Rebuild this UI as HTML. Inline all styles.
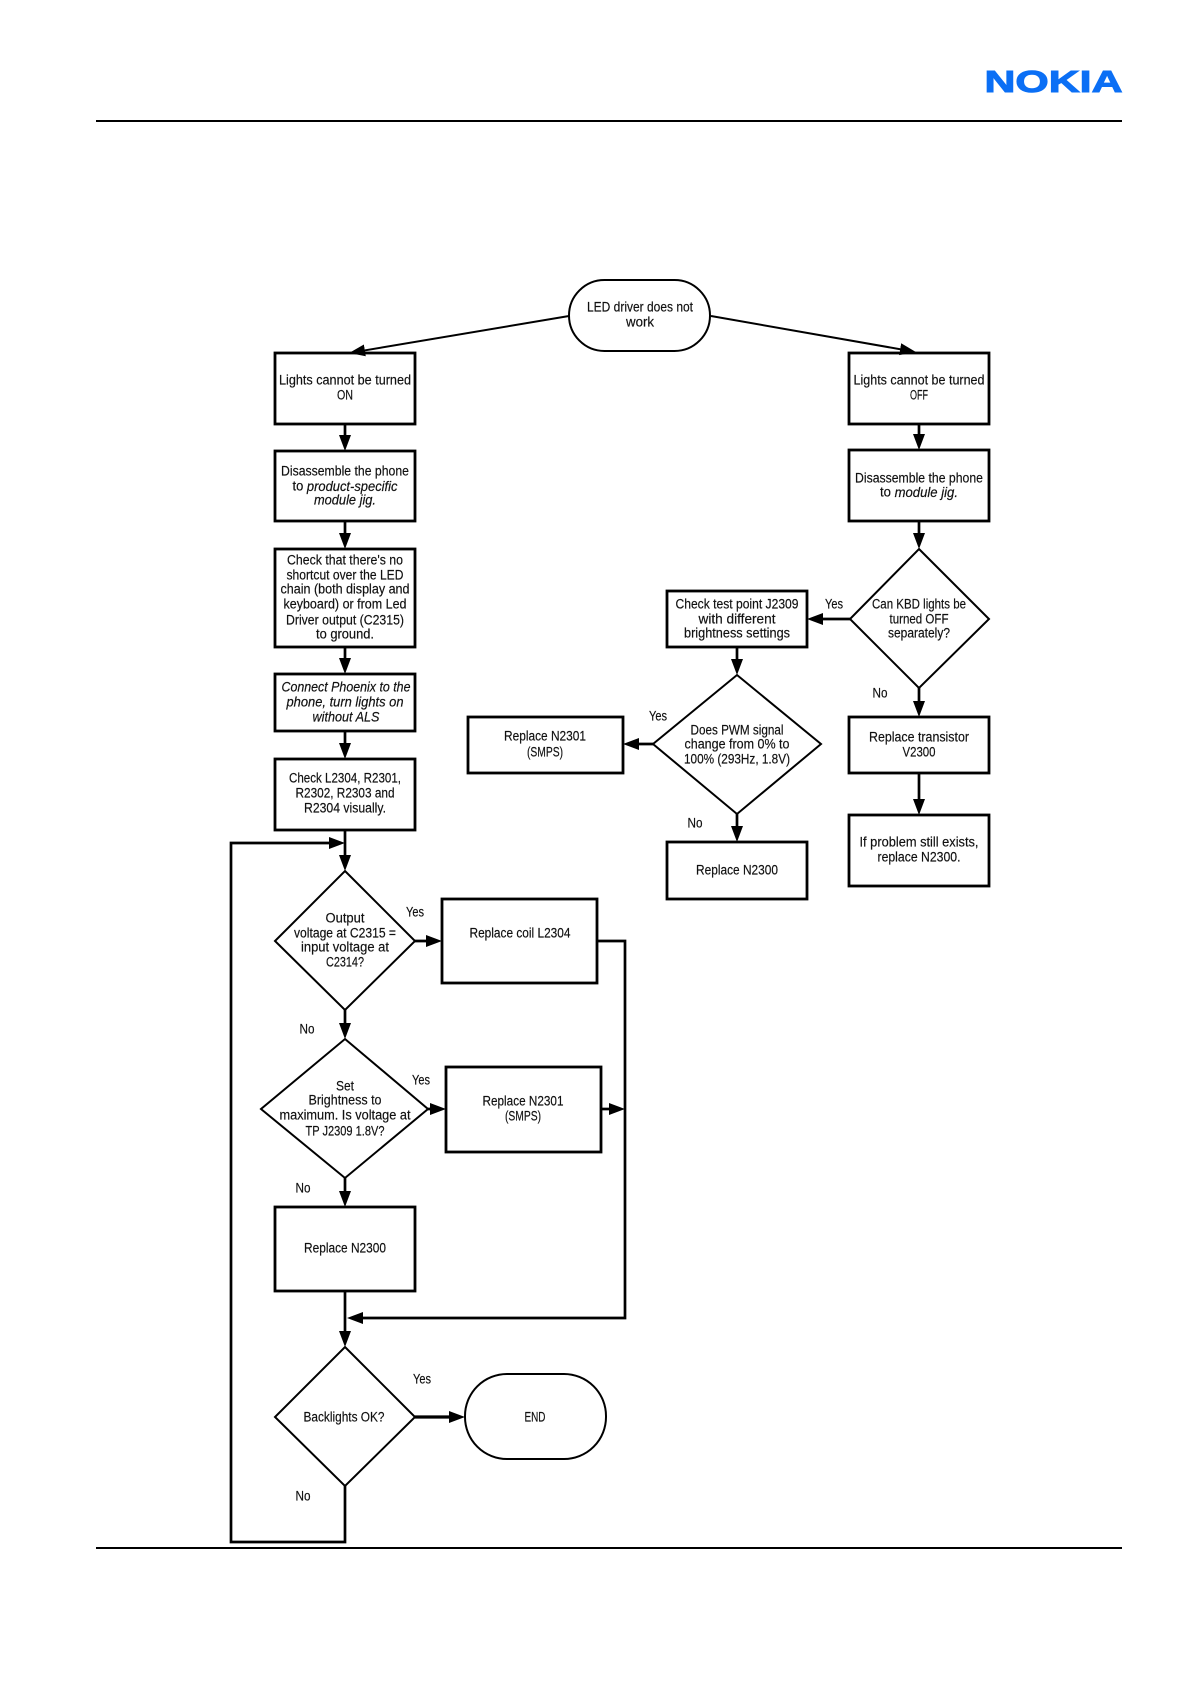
<!DOCTYPE html>
<html><head><meta charset="utf-8"><style>
html,body{margin:0;padding:0;background:#fff}
svg{display:block}
text{font-family:"Liberation Sans",sans-serif;font-size:13.5px;fill:#111;stroke:#111;stroke-width:.18;text-anchor:middle;dominant-baseline:central}
.i{font-style:italic}
</style></head><body>
<svg width="1191" height="1684" viewBox="0 0 1191 1684" xmlns="http://www.w3.org/2000/svg">
<defs><marker id="a" markerUnits="userSpaceOnUse" markerWidth="17" markerHeight="14" refX="8" refY="7" orient="auto"><path d="M0 1L16 7L0 13z" fill="#000"/></marker></defs>
<rect width="1191" height="1684" fill="#fff"/>
<text x="1053.5" y="81.500" textLength="138" lengthAdjust="spacingAndGlyphs" style="font-size:31px;font-weight:bold;fill:#0b6ff5;stroke:#0b6ff5;stroke-width:1">NOKIA</text>
<path d="M96 121H1122M96 1548H1122" stroke="#000" stroke-width="2" fill="none"/>

<g fill="none" stroke="#000" stroke-width="2.8">
<rect x="275" y="353" width="140" height="71"/>
<rect x="275" y="451" width="140" height="70"/>
<rect x="275" y="549" width="140" height="98"/>
<rect x="275" y="674" width="140" height="57"/>
<rect x="275" y="759" width="140" height="71"/>
<rect x="442" y="899" width="155" height="84"/>
<rect x="446" y="1067" width="155" height="85"/>
<rect x="275" y="1207" width="140" height="84"/>
<rect x="849" y="353" width="140" height="71"/>
<rect x="849" y="450" width="140" height="71"/>
<rect x="667" y="591" width="140" height="56"/>
<rect x="468" y="717" width="155" height="56"/>
<rect x="667" y="842" width="140" height="57"/>
<rect x="849" y="717" width="140" height="56"/>
<rect x="849" y="815" width="140" height="71"/>
</g>
<g fill="none" stroke="#000" stroke-width="2">
<rect x="569" y="280" width="141" height="71" rx="35.5"/>
<rect x="465" y="1374" width="141" height="85" rx="42"/>
<path d="M345 871L415 941L345 1010L275 941Z"/>
<path d="M345 1039L428 1109L345 1178L261 1109Z"/>
<path d="M345 1347L415 1417L345 1486L275 1417Z"/>
<path d="M919 549L989 619L919 688L850 619Z"/>
<path d="M737 675L821 744L737 814L653 744Z"/>
</g>

<g fill="none" stroke="#000" stroke-width="2.7" marker-end="url(#a)">
<path d="M345 424V443"/><path d="M345 521V541"/><path d="M345 647V666"/><path d="M345 731V751"/>
<path d="M345 830V863"/><path d="M345 1010V1031"/><path d="M345 1178V1199"/><path d="M345 1291V1339"/>
<path d="M345 1486V1542H231V843H337"/>
<path d="M415 941H434"/><path d="M428 1109H438"/><path d="M601 1109H617"/>
<path d="M597 941H625V1318H355"/>
<path d="M415 1417H457" stroke-width="3.200"/>
<path d="M919 424V442"/><path d="M919 521V541"/><path d="M919 688V709"/><path d="M919 773V807"/>
<path d="M737 647V667"/><path d="M737 814V834"/>
<path d="M850 619H815"/><path d="M653 744H631"/>
<path d="M569 316L357 351.700" stroke-width="2"/><path d="M711 316L908 350.600" stroke-width="2"/>
</g>

<text x="640" y="307" textLength="106" lengthAdjust="spacingAndGlyphs">LED driver does not</text>
<text x="640" y="322" textLength="28" lengthAdjust="spacingAndGlyphs">work</text>
<text x="345" y="380" textLength="132" lengthAdjust="spacingAndGlyphs">Lights cannot be turned</text>
<text x="345" y="395" textLength="16" lengthAdjust="spacingAndGlyphs">ON</text>
<text x="345" y="471" textLength="128" lengthAdjust="spacingAndGlyphs">Disassemble the phone</text>
<text x="345" y="486" textLength="105" lengthAdjust="spacingAndGlyphs">to <tspan class="i">product-specific</tspan></text>
<text x="345" y="500" textLength="62" lengthAdjust="spacingAndGlyphs" class="i">module jig.</text>
<text x="345" y="560" textLength="116" lengthAdjust="spacingAndGlyphs">Check that there's no</text>
<text x="345" y="575" textLength="117" lengthAdjust="spacingAndGlyphs">shortcut over the LED</text>
<text x="345" y="589" textLength="129" lengthAdjust="spacingAndGlyphs">chain (both display and</text>
<text x="345" y="604" textLength="123" lengthAdjust="spacingAndGlyphs">keyboard) or from Led</text>
<text x="345" y="620" textLength="118" lengthAdjust="spacingAndGlyphs">Driver output (C2315)</text>
<text x="345" y="634" textLength="58" lengthAdjust="spacingAndGlyphs">to ground.</text>
<text x="346" y="687" textLength="129" lengthAdjust="spacingAndGlyphs" class="i">Connect Phoenix to the</text>
<text x="345" y="702" textLength="117" lengthAdjust="spacingAndGlyphs" class="i">phone, turn lights on</text>
<text x="346" y="717" textLength="67" lengthAdjust="spacingAndGlyphs" class="i">without ALS</text>
<text x="345" y="778" textLength="112" lengthAdjust="spacingAndGlyphs">Check L2304, R2301,</text>
<text x="345" y="793" textLength="99" lengthAdjust="spacingAndGlyphs">R2302, R2303 and</text>
<text x="345" y="808" textLength="82" lengthAdjust="spacingAndGlyphs">R2304 visually.</text>
<text x="345" y="918" textLength="39" lengthAdjust="spacingAndGlyphs">Output</text>
<text x="345" y="933" textLength="102" lengthAdjust="spacingAndGlyphs">voltage at C2315 =</text>
<text x="345" y="947" textLength="88" lengthAdjust="spacingAndGlyphs">input voltage at</text>
<text x="345" y="962" textLength="38" lengthAdjust="spacingAndGlyphs">C2314?</text>
<text x="520" y="933" textLength="101" lengthAdjust="spacingAndGlyphs">Replace coil L2304</text>
<text x="345" y="1086" textLength="18" lengthAdjust="spacingAndGlyphs">Set</text>
<text x="345" y="1100" textLength="73" lengthAdjust="spacingAndGlyphs">Brightness to</text>
<text x="345" y="1115" textLength="131" lengthAdjust="spacingAndGlyphs">maximum. Is voltage at</text>
<text x="345" y="1131" textLength="79" lengthAdjust="spacingAndGlyphs">TP J2309 1.8V?</text>
<text x="523" y="1101" textLength="81" lengthAdjust="spacingAndGlyphs">Replace N2301</text>
<text x="523" y="1116" textLength="36" lengthAdjust="spacingAndGlyphs">(SMPS)</text>
<text x="345" y="1248" textLength="82" lengthAdjust="spacingAndGlyphs">Replace N2300</text>
<text x="344" y="1417" textLength="81" lengthAdjust="spacingAndGlyphs">Backlights OK?</text>
<text x="535" y="1417" textLength="21" lengthAdjust="spacingAndGlyphs">END</text>
<text x="919" y="380" textLength="131" lengthAdjust="spacingAndGlyphs">Lights cannot be turned</text>
<text x="919" y="395" textLength="18" lengthAdjust="spacingAndGlyphs">OFF</text>
<text x="919" y="478" textLength="128" lengthAdjust="spacingAndGlyphs">Disassemble the phone</text>
<text x="919" y="492" textLength="78" lengthAdjust="spacingAndGlyphs">to <tspan class="i">module jig.</tspan></text>
<text x="919" y="604" textLength="94" lengthAdjust="spacingAndGlyphs">Can KBD lights be</text>
<text x="919" y="619" textLength="59" lengthAdjust="spacingAndGlyphs">turned OFF</text>
<text x="919" y="633" textLength="62" lengthAdjust="spacingAndGlyphs">separately?</text>
<text x="737" y="604" textLength="123" lengthAdjust="spacingAndGlyphs">Check test point J2309</text>
<text x="737" y="619" textLength="77" lengthAdjust="spacingAndGlyphs">with different</text>
<text x="737" y="633" textLength="106" lengthAdjust="spacingAndGlyphs">brightness settings</text>
<text x="737" y="730" textLength="93" lengthAdjust="spacingAndGlyphs">Does PWM signal</text>
<text x="737" y="744" textLength="105" lengthAdjust="spacingAndGlyphs">change from 0% to</text>
<text x="737" y="759" textLength="106" lengthAdjust="spacingAndGlyphs">100% (293Hz, 1.8V)</text>
<text x="545" y="736" textLength="82" lengthAdjust="spacingAndGlyphs">Replace N2301</text>
<text x="545" y="752" textLength="36" lengthAdjust="spacingAndGlyphs">(SMPS)</text>
<text x="737" y="870" textLength="82" lengthAdjust="spacingAndGlyphs">Replace N2300</text>
<text x="919" y="737" textLength="100" lengthAdjust="spacingAndGlyphs">Replace transistor</text>
<text x="919" y="752" textLength="33" lengthAdjust="spacingAndGlyphs">V2300</text>
<text x="919" y="842" textLength="119" lengthAdjust="spacingAndGlyphs">If problem still exists,</text>
<text x="919" y="857" textLength="83" lengthAdjust="spacingAndGlyphs">replace N2300.</text>

<text x="834" y="604" textLength="18" lengthAdjust="spacingAndGlyphs">Yes</text>
<text x="880" y="693" textLength="15" lengthAdjust="spacingAndGlyphs">No</text>
<text x="658" y="716" textLength="18" lengthAdjust="spacingAndGlyphs">Yes</text>
<text x="695" y="823" textLength="15" lengthAdjust="spacingAndGlyphs">No</text>
<text x="415" y="912" textLength="18" lengthAdjust="spacingAndGlyphs">Yes</text>
<text x="307" y="1029" textLength="15" lengthAdjust="spacingAndGlyphs">No</text>
<text x="421" y="1080" textLength="18" lengthAdjust="spacingAndGlyphs">Yes</text>
<text x="303" y="1188" textLength="15" lengthAdjust="spacingAndGlyphs">No</text>
<text x="422" y="1379" textLength="18" lengthAdjust="spacingAndGlyphs">Yes</text>
<text x="303" y="1496" textLength="15" lengthAdjust="spacingAndGlyphs">No</text>
</svg>
</body></html>
